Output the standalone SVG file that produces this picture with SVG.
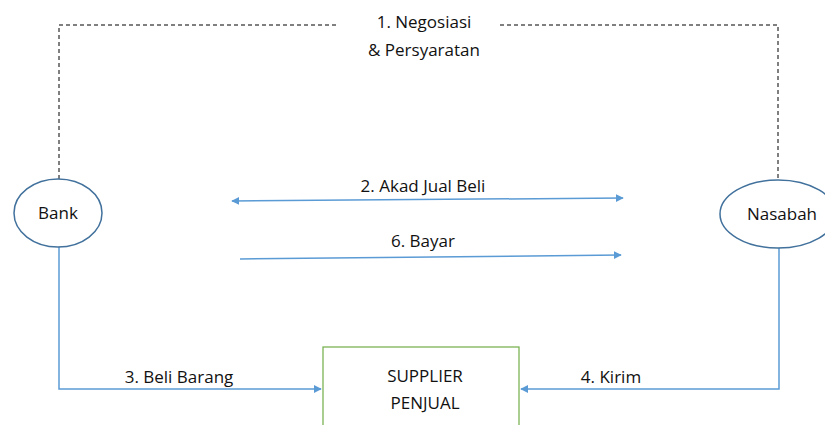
<svg xmlns="http://www.w3.org/2000/svg" width="825" height="425" viewBox="0 0 825 425">
<style>
text{font-family:"Open Sans","Liberation Sans",sans-serif;font-size:17px;fill:#111;text-anchor:middle}
.dash{fill:none;stroke:#000;stroke-width:1;stroke-dasharray:4 3}
.blue{fill:none;stroke:#5B9BD5;stroke-width:1.5}
.node{fill:#fff;stroke:#41719C;stroke-width:1.5}
</style>
<defs>
<marker id="ah" viewBox="0 0 10 10" refX="9" refY="5" markerWidth="8" markerHeight="8" orient="auto-start-reverse" markerUnits="userSpaceOnUse">
<path d="M0,0 L10,5 L0,10 z" fill="#5B9BD5"/>
</marker>
</defs>
<g id="connectors">
<path class="dash" d="M59,179 V25 H336"/>
<path class="dash" d="M500,25 H778 V180"/>
<path class="blue" d="M59,247 V389 H321" marker-end="url(#ah)"/>
<path class="blue" d="M779,248 V389 H521" marker-end="url(#ah)"/>
<line class="blue" x1="232" y1="201" x2="623" y2="198" marker-start="url(#ah)" marker-end="url(#ah)"/>
<line class="blue" x1="240" y1="259" x2="621" y2="255" marker-end="url(#ah)"/>
<text x="424" y="28">1. Negosiasi</text>
<text x="424" y="56">&amp; Persyaratan</text>
<text x="423" y="192">2. Akad Jual Beli</text>
<text x="423" y="247">6. Bayar</text>
<text x="179" y="383">3. Beli Barang</text>
<text x="611" y="383">4. Kirim</text>
</g>
<g id="bank">
<ellipse class="node" cx="58" cy="213" rx="44" ry="34"/>
<text x="58" y="219">Bank</text>
</g>
<g id="nasabah">
<ellipse class="node" cx="778" cy="214" rx="58" ry="34"/>
<text x="782" y="220">Nasabah</text>
</g>
<g id="supplier">
<rect x="323" y="347" width="196" height="90" fill="#fff" stroke="#70AD47" stroke-width="1.2"/>
<text x="425" y="382">SUPPLIER</text>
<text x="425" y="409">PENJUAL</text>
</g>
</svg>
